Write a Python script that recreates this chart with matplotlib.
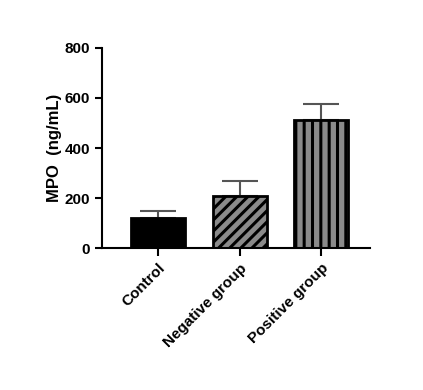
import numpy as np
import matplotlib
matplotlib.use("Agg")
from matplotlib import pyplot as plt

# data
groups = ["Control", "Negative group", "Positive group"]
means = [120, 208, 512]
errs = [28, 60, 64]
yticks = [0, 200, 400, 600, 800]

plt.rcParams['font.family'] = ['Liberation Sans', 'DejaVu Sans']
plt.rcParams['font.weight'] = 'bold'
plt.rcParams['hatch.linewidth'] = 2.2

fig = plt.figure(figsize=(4.23, 3.9), dpi=100)
ax = fig.add_axes([0.241, 0.364, 0.634, 0.513])

x = np.arange(len(groups))
fills = ["black", "#8a8a8a", "#8a8a8a"]
hatches = [None, "///", "||"]

# error bars first (upper only), behind bars
ax.errorbar(x, means, yerr=[np.zeros(3), errs], fmt='none', ecolor='#555555',
            elinewidth=1.5, capsize=13, capthick=1.5, zorder=1)

for xi, m, fc, h in zip(x, means, fills, hatches):
    ax.bar(xi, m, width=0.66, color=fc, edgecolor='black', linewidth=2,
           hatch=h, zorder=2)

ax.set_xlim(-0.69, 2.6)
ax.set_ylim(0, 800)
ax.set_yticks(yticks)
ax.set_xticks(x)
ax.set_xticklabels(groups, rotation=45, ha='right', rotation_mode='anchor',
                   fontsize=11, fontweight='bold')
ax.tick_params(axis='y', labelsize=11, width=1.5, length=5)
ax.tick_params(axis='x', width=1.5, length=6)
ax.set_ylabel("MPO  (ng/mL)", fontsize=12, fontweight='bold', labelpad=2)
for s in ['top', 'right']:
    ax.spines[s].set_visible(False)
for s in ['left', 'bottom']:
    ax.spines[s].set_linewidth(1.5)

fig.savefig("out.png", dpi=100)
